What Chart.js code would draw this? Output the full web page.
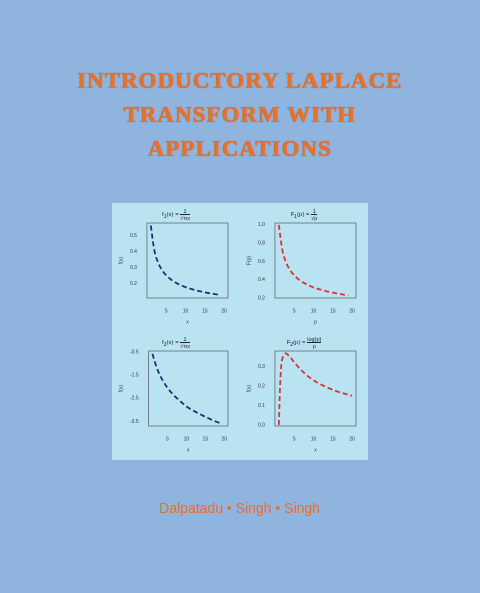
<!DOCTYPE html><html><head><meta charset="utf-8">
<script src="https://cdn.jsdelivr.net/npm/chart.js@4"></script>
<style>
body{margin:0;width:480px;height:593px;background:#8fb4de;position:relative;overflow:hidden;font-family:"Liberation Sans",sans-serif}
#title{position:absolute;top:64px;left:0;width:480px;text-align:center;color:#e5732e;font:bold 23px/34px "Liberation Serif",serif;letter-spacing:1px;text-shadow:0 0 1px #c0501a}
#panel{position:absolute;left:112px;top:203px;width:256px;height:257px;background:#bae3f1}
.c{position:absolute;width:128px;height:128px}
.t{position:absolute;width:128px;text-align:center;font-size:6px;color:#223;top:5px}
.fr{display:inline-block;vertical-align:middle;text-align:center;font-size:5.5px;line-height:6px}
.fr span{display:block}
.fr span.n{border-bottom:0.5px solid #223}
#auth{position:absolute;top:500px;left:0;width:480px;text-align:center;color:#e5732e;font-size:14px}
</style></head><body>
<div id="title">INTRODUCTORY LAPLACE<br>TRANSFORM WITH<br>APPLICATIONS</div>
<div id="panel">
<div class="c" style="left:0;top:0"><canvas id="c1"></canvas><div class="t">f<sub>1</sub>(x) = <span class="fr"><span class="n">1</span><span>√πx</span></span></div></div>
<div class="c" style="left:128px;top:0"><canvas id="c2"></canvas><div class="t">F<sub>1</sub>(p) = <span class="fr"><span class="n">1</span><span>√p</span></span></div></div>
<div class="c" style="left:0;top:128px"><canvas id="c3"></canvas><div class="t">f<sub>2</sub>(x) = <span class="fr"><span class="n">1</span><span>√πx</span></span></div></div>
<div class="c" style="left:128px;top:128px"><canvas id="c4"></canvas><div class="t">F<sub>2</sub>(p) = <span class="fr"><span class="n">log(p)</span><span>p</span></span></div></div>
</div>
<div id="auth">Dalpatadu • Singh • Singh</div>
<script>
const xs=[1,2,3,4,5,6,7,8,10,12,14,16,18,19];
const f1=[0.564,0.399,0.326,0.282,0.252,0.230,0.213,0.199,0.178,0.163,0.151,0.141,0.133,0.129];
const F1=[1,0.707,0.577,0.5,0.447,0.408,0.378,0.354,0.316,0.289,0.267,0.25,0.236,0.229];
const f2=[-0.57,-1.1,-1.5,-1.8,-2.05,-2.25,-2.42,-2.57,-2.85,-3.05,-3.22,-3.38,-3.52,-3.58];
const ps=[1,1.5,2,2.718,3,4,5,6,8,10,12,14,16,18,20];
const F2=[0,0.27,0.347,0.368,0.366,0.347,0.322,0.299,0.26,0.23,0.207,0.189,0.173,0.161,0.15];
const xTicks=[5,10,15,20];
const y1Ticks=[0.2,0.3,0.4,0.5];
const y2Ticks=[0.2,0.4,0.6,0.8,1.0];
const y3Ticks=[-3.5,-2.5,-1.5,-0.5];
const y4Ticks=[0,0.1,0.2,0.3];
const box={id:'box',afterDraw(c){const a=c.chartArea,g=c.ctx;g.save();g.strokeStyle='#556';g.lineWidth=0.7;g.strokeRect(a.left,a.top,a.right-a.left,a.bottom-a.top);g.restore();}};
function mk(id,x,y,col,xl,yl,ymin,ymax,yt,dec){
 new Chart(document.getElementById(id),{type:'line',
 data:{datasets:[{data:x.map((v,i)=>({x:v,y:y[i]})),borderColor:col,borderWidth:1.8,borderDash:[5,3],pointRadius:0,tension:0.35,fill:false}]},
 options:{responsive:false,animation:false,devicePixelRatio:2,layout:{padding:{top:20,right:12,left:2,bottom:2}},
 plugins:{legend:{display:false},tooltip:{enabled:false}},
 scales:{x:{type:'linear',min:0,max:21,afterBuildTicks:s=>{s.ticks=xTicks.map(v=>({value:v}))},grid:{display:false},border:{display:false},
  ticks:{font:{size:5},color:'#334',padding:2},title:{display:true,text:xl,font:{size:5},color:'#334',padding:{top:3}}},
  y:{min:ymin,max:ymax,afterBuildTicks:s=>{s.ticks=yt.map(v=>({value:v}))},grid:{display:false},border:{display:false},
  ticks:{font:{size:5},color:'#334',padding:2,callback:v=>v.toFixed(1)},
  title:{display:true,text:yl,font:{size:5},color:'#334'}}}},
 plugins:[box]});
}
document.querySelectorAll('canvas').forEach(c=>{c.width=128;c.height=128;c.style.width='128px';c.style.height='128px';});
mk('c1',xs,f1,'#1e2f70','x','f(x)',0.11,0.58,y1Ticks);
mk('c2',xs,F1,'#d8323a','p','F(p)',0.2,1.02,y2Ticks);
mk('c3',xs,f2,'#1e2f70','x','f(x)',-3.7,-0.45,y3Ticks);
mk('c4',ps,F2,'#d8323a','x','f(x)',-0.005,0.38,y4Ticks);
</script></body></html>
